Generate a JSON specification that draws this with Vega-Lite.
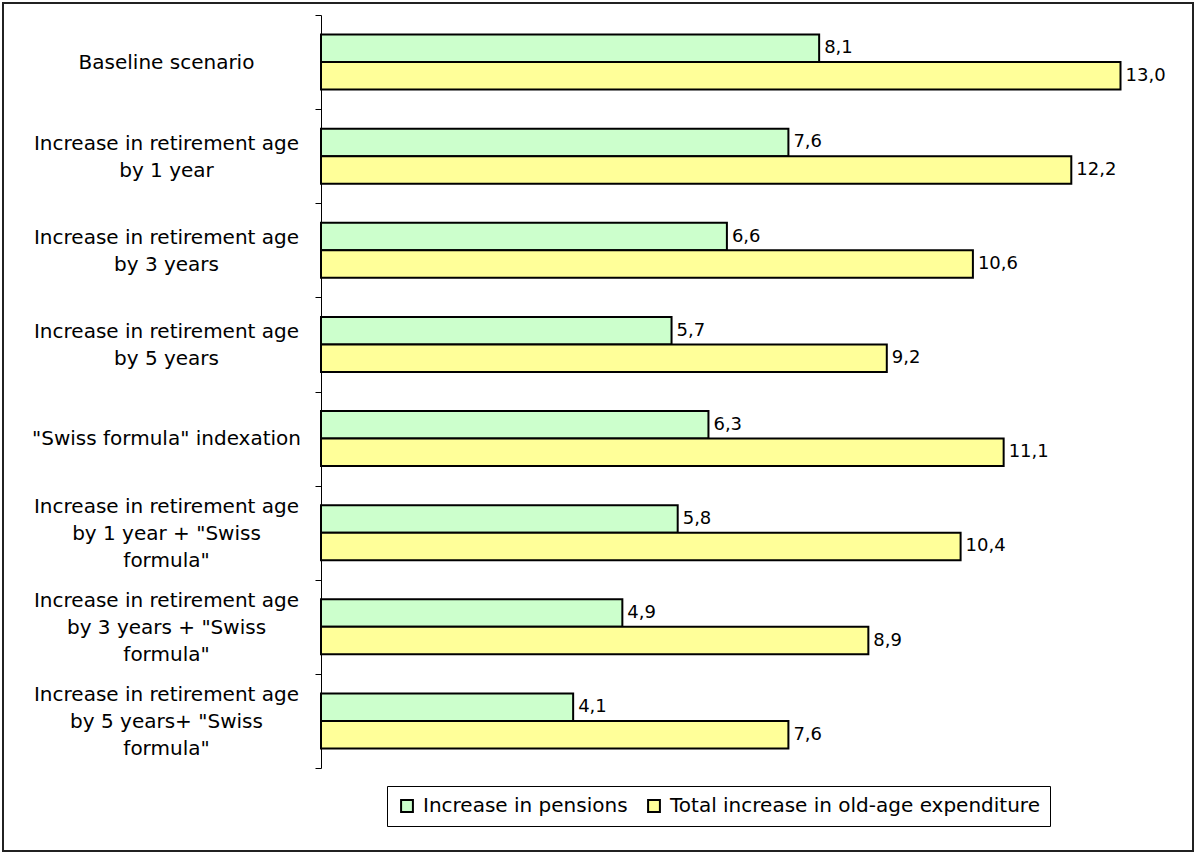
{
  "$schema": "https://vega.github.io/schema/vega-lite/v6.json",
  "autosize": {"type": "none"},
  "padding": {"left": 321, "top": 15, "right": 15, "bottom": 87},
  "width": 861,
  "height": 753,
  "background": "white",
  "config": {
    "view": {"stroke": null},
    "font": "DejaVu Sans",
    "locale": {"number": {"decimal": ",", "thousands": ".", "grouping": [3], "currency": ["", " €"]}}
  },
  "data": {
    "values": [
      {"scenario": "Baseline scenario", "series": "Increase in pensions", "value": 8.1},
      {"scenario": "Baseline scenario", "series": "Total increase in old-age expenditure", "value": 13.0},
      {"scenario": "Increase in retirement age|by 1 year", "series": "Increase in pensions", "value": 7.6},
      {"scenario": "Increase in retirement age|by 1 year", "series": "Total increase in old-age expenditure", "value": 12.2},
      {"scenario": "Increase in retirement age|by 3 years", "series": "Increase in pensions", "value": 6.6},
      {"scenario": "Increase in retirement age|by 3 years", "series": "Total increase in old-age expenditure", "value": 10.6},
      {"scenario": "Increase in retirement age|by 5 years", "series": "Increase in pensions", "value": 5.7},
      {"scenario": "Increase in retirement age|by 5 years", "series": "Total increase in old-age expenditure", "value": 9.2},
      {"scenario": "\"Swiss formula\" indexation", "series": "Increase in pensions", "value": 6.3},
      {"scenario": "\"Swiss formula\" indexation", "series": "Total increase in old-age expenditure", "value": 11.1},
      {"scenario": "Increase in retirement age|by 1 year + \"Swiss|formula\"", "series": "Increase in pensions", "value": 5.8},
      {"scenario": "Increase in retirement age|by 1 year + \"Swiss|formula\"", "series": "Total increase in old-age expenditure", "value": 10.4},
      {"scenario": "Increase in retirement age|by 3 years + \"Swiss|formula\"", "series": "Increase in pensions", "value": 4.9},
      {"scenario": "Increase in retirement age|by 3 years + \"Swiss|formula\"", "series": "Total increase in old-age expenditure", "value": 8.9},
      {"scenario": "Increase in retirement age|by 5 years+ \"Swiss|formula\"", "series": "Increase in pensions", "value": 4.1},
      {"scenario": "Increase in retirement age|by 5 years+ \"Swiss|formula\"", "series": "Total increase in old-age expenditure", "value": 7.6}
    ]
  },
  "resolve": {"scale": {"y": "independent"}},
  "layer": [
    {
      "mark": {"type": "rect", "fill": null, "stroke": "#222222", "strokeWidth": 1.5, "clip": false},
      "encoding": {
        "x": {"datum": -5.17, "type": "quantitative", "scale": {"domain": [0, 14], "nice": false}, "axis": null},
        "x2": {"datum": 14.18},
        "y": {"datum": 765, "type": "quantitative", "scale": {"domain": [0, 753], "nice": false, "zero": false}, "axis": null},
        "y2": {"datum": -83}
      }
    },
    {
      "layer": [
        {
          "mark": {"type": "bar", "stroke": "black", "strokeWidth": 2},
          "encoding": {
            "color": {
              "field": "series",
              "type": "nominal",
              "scale": {"domain": ["Increase in pensions", "Total increase in old-age expenditure"], "range": ["#CCFFCC", "#FFFF99"]},
              "legend": {
                "title": null,
                "orient": "none",
                "legendX": 66,
                "legendY": 771,
                "direction": "horizontal",
                "symbolType": "square",
                "symbolSize": 140,
                "symbolStrokeColor": "black",
                "symbolStrokeWidth": 2,
                "symbolOpacity": 1,
                "labelFontSize": 20,
                "labelColor": "black",
                "labelLimit": 600,
                "labelOffset": 6,
                "columnPadding": 16,
                "padding": 10,
                "strokeColor": "black",
                "fillColor": "white"
              }
            }
          }
        },
        {
          "mark": {"type": "text", "align": "left", "baseline": "middle", "dx": 5, "fontSize": 18, "color": "black"},
          "encoding": {
            "text": {"field": "value", "type": "quantitative", "format": ".1f"}
          }
        }
      ],
      "encoding": {
        "y": {
          "field": "scenario",
          "type": "nominal",
          "sort": null,
          "scale": {"paddingInner": 0, "paddingOuter": 0},
          "axis": {
            "title": null,
            "tickBand": "extent",
            "tickSize": 6,
            "tickColor": "black",
            "domainColor": "black",
            "domainWidth": 1,
            "labelAlign": "center",
            "labelPadding": 149,
            "labelFontSize": 20,
            "labelColor": "black",
            "labelLineHeight": 27,
            "labelLimit": 400,
            "labelOffset": {
              "condition": [
                {"test": "length(split(datum.value, '|')) == 3", "value": -26},
                {"test": "length(split(datum.value, '|')) == 2", "value": -12.5}
              ],
              "value": 0
            },
            "labelExpr": "split(datum.label, '|')"
          }
        },
        "yOffset": {
          "field": "series",
          "type": "nominal",
          "sort": ["Increase in pensions", "Total increase in old-age expenditure"],
          "scale": {"paddingInner": 0, "paddingOuter": 0.71}
        },
        "x": {
          "field": "value",
          "type": "quantitative",
          "scale": {"domain": [0, 14], "nice": false},
          "axis": null
        }
      }
    }
  ]
}
